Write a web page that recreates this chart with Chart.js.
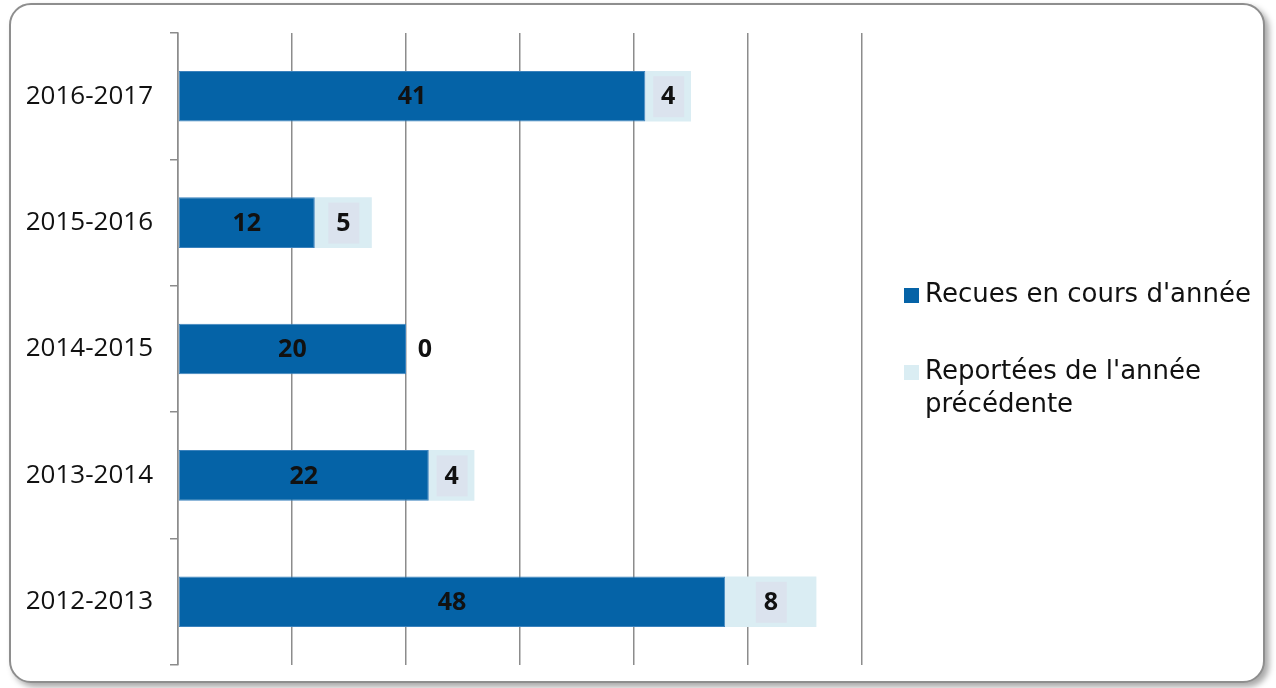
<!DOCTYPE html>
<html>
<head>
<meta charset="utf-8">
<script src="https://cdn.jsdelivr.net/npm/chart.js@4.4.1/dist/chart.umd.min.js"></script>
<style>
  html, body { margin: 0; padding: 0; background: #ffffff; }
  #wrap { position: relative; width: 1276px; height: 688px; overflow: hidden; }
  #frame {
    position: absolute; left: 9px; top: 3px; width: 1256px; height: 680px;
    border: 2px solid #8e8e8e; border-radius: 22px; box-sizing: border-box;
    box-shadow: 4px 4px 6px rgba(0,0,0,0.35);
    background: #ffffff;
  }
  #chartBox { position: absolute; left: 0; top: 0; width: 1276px; height: 688px; }
  #legend {
    position: absolute; left: 904px; top: 277px;
    font-family: "DejaVu Sans", sans-serif; font-size: 26px; color: #111;
  }
  .item { position: relative; padding-left: 21px; line-height: 33px; }
  .item .sw { position: absolute; left: 0; top: 11px; width: 15px; height: 15px; }
</style>
</head>
<body>
<div id="wrap">
  <div id="frame"></div>
  <div id="chartBox"><canvas id="barChart" width="1276" height="688"></canvas></div>
  <div id="legend"></div>
</div>
<script>
// categories, top to bottom
var categories = ["2016-2017", "2015-2016", "2014-2015", "2013-2014", "2012-2013"];
var recues = [41, 12, 20, 22, 48];      // Recues en cours d'année
var reportees = [4, 5, 0, 4, 8];        // Reportées de l'année précédente
var seriesNames = ["Recues en cours d'année", ["Reportées de l'année", "précédente"]];
var xMax = 60;
var xStep = 10;

var darkBlue = "#0563a7";
var lightBlue = "#daedf3";
var gridGrey = "#8c8c8c";

// value labels drawn on each bar
var valueLabels = {
  id: "valueLabels",
  afterDatasetsDraw: function (chart) {
    var ctx = chart.ctx;
    ctx.save();
    ctx.font = "bold 25px 'Open Sans', sans-serif";
    ctx.textAlign = "center";
    ctx.textBaseline = "middle";
    chart.data.datasets.forEach(function (ds, di) {
      var meta = chart.getDatasetMeta(di);
      meta.data.forEach(function (bar, i) {
        var v = ds.data[i];
        var x = (bar.x + bar.base) / 2;
        if (v === 0) x = bar.x + 19;
        var y = bar.y;
        if (di === 1 && v !== 0) {
          ctx.fillStyle = "#dbe3ee";
          ctx.fillRect(x - 15, y - 20, 31, 41);
        }
        ctx.fillStyle = "#111111";
        ctx.fillText(String(v), x, y + 1);
      });
    });
    ctx.restore();
  }
};

var ctx = document.getElementById("barChart").getContext("2d");

var myBarChart = new Chart(ctx, {
  type: "bar",
  data: {
    labels: categories,
    datasets: [
      {
        label: seriesNames[0],
        data: recues,
        backgroundColor: darkBlue,
        borderColor: "#3b82bd",
        borderWidth: 1,
        borderSkipped: false,
        categoryPercentage: 0.8,
        barPercentage: 0.5,
      },
      {
        label: seriesNames[1],
        data: reportees,
        backgroundColor: lightBlue,
        borderWidth: 0,
        categoryPercentage: 0.8,
        barPercentage: 0.5,
      },
    ],
  },
  options: {
    indexAxis: "y",
    responsive: false,
    animation: false,
    layout: { padding: { left: 0, right: 414, top: 33, bottom: 23 } },
    plugins: {
      legend: { display: false },
      tooltip: { enabled: false },
    },
    scales: {
      x: {
        stacked: true,
        min: 0,
        max: xMax,
        afterFit: function (scale) { scale.height = 0; },
        ticks: { display: false, stepSize: xStep },
        grid: { color: gridGrey, lineWidth: 1.5, drawTicks: false },
        border: { display: false },
      },
      y: {
        stacked: true,
        afterFit: function (scale) {
          scale.width = 178;
          scale.paddingTop = 0;
          scale.paddingBottom = 0;
        },
        ticks: {
          color: "#111111",
          padding: 17,
          font: { family: "'Open Sans', sans-serif", size: 26 },
        },
        grid: { drawOnChartArea: false, color: gridGrey, lineWidth: 1.5, tickLength: 8 },
        border: { display: true, color: gridGrey, width: 1.5 },
      },
    },
  },
  plugins: [valueLabels],
});

// legend built from the dataset names and colours
var legend = document.getElementById("legend");
myBarChart.data.datasets.forEach(function (ds, i) {
  var item = document.createElement("div");
  item.className = "item";
  item.style.marginBottom = i === 0 ? "44px" : "0";
  var sw = document.createElement("span");
  sw.className = "sw";
  sw.style.background = ds.backgroundColor;
  item.appendChild(sw);
  var lines = Array.isArray(ds.label) ? ds.label : [ds.label];
  lines.forEach(function (t, k) {
    if (k > 0) item.appendChild(document.createElement("br"));
    item.appendChild(document.createTextNode(t));
  });
  legend.appendChild(item);
});
</script>
</body>
</html>
